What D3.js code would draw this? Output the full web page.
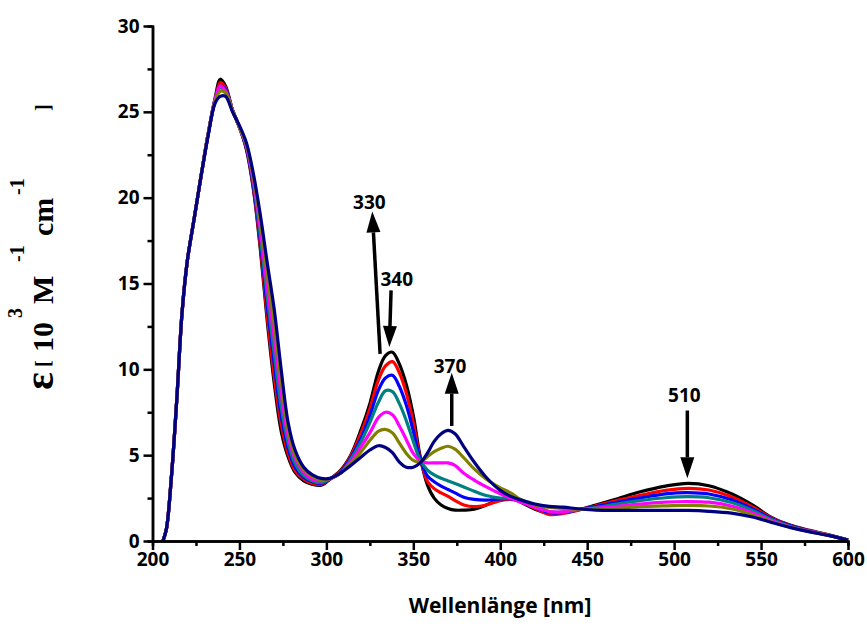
<!DOCTYPE html>
<html>
<head>
<meta charset="utf-8">
<script src="https://cdn.jsdelivr.net/npm/d3@7"></script>
<style>
  html, body { margin: 0; padding: 0; background: #ffffff; }
  svg { display: block; }
</style>
</head>
<body>
<svg id="chart" width="867" height="628"></svg>
<script>
// Wavelength grid (nm) shared by all spectra
const wavelength = [206, 208, 211, 214, 217, 220, 224, 228, 232, 236,
  239, 242, 246, 250, 254, 258, 262, 266, 270, 274,
  278, 282, 287, 292, 297, 302, 308, 314, 320, 325,
  330, 334, 338, 342, 346, 350, 354, 358, 362, 366,
  370, 374, 379, 385, 392, 400, 406, 412, 420, 428,
  436, 445, 455, 467, 480, 495, 508, 520, 533, 545,
  556, 567, 578, 590, 600];

// Molar absorptivity (10^3 M^-1 cm^-1), one array per spectrum
const specBlack = [0, 0.7, 3.9, 8.3, 13.3, 16.3, 18.8, 21.3, 23.7, 25.8,
  26.9, 26.5, 25.1, 24.1, 22.8, 20.5, 17.0, 12.8, 9.2, 6.4,
  4.9, 4.0, 3.5, 3.3, 3.25, 3.6, 4.1, 5.0, 6.5, 8.0,
  9.9, 10.8, 11.0, 10.3, 9.1, 7.3, 4.9, 3.3, 2.5, 2.1,
  1.9, 1.8, 1.8, 1.85, 2.1, 2.45, 2.55, 2.25, 1.85, 1.62,
  1.65, 1.82, 2.1, 2.45, 2.85, 3.2, 3.36, 3.22, 2.75, 2.1,
  1.38, 0.92, 0.62, 0.33, 0.05];
const specRed = [0, 0.7, 3.9, 8.3, 13.3, 16.3, 18.8, 21.3, 23.7, 25.7,
  26.7, 26.4, 25.1, 24.1, 22.9, 20.6, 17.2, 13.1, 9.6, 6.8,
  5.1, 4.1, 3.6, 3.35, 3.3, 3.6, 4.05, 4.95, 6.3, 7.7,
  9.4, 10.2, 10.45, 9.8, 8.6, 6.9, 4.8, 3.5, 3.05, 2.8,
  2.6, 2.35, 2.1, 2.0, 2.1, 2.35, 2.42, 2.3, 1.9, 1.55,
  1.6, 1.8, 2.05, 2.35, 2.65, 2.95, 3.07, 2.97, 2.58, 1.98,
  1.35, 0.9, 0.6, 0.32, 0.05];
const specBlue = [0, 0.7, 3.9, 8.3, 13.3, 16.3, 18.8, 21.3, 23.7, 25.7,
  26.5, 26.3, 25.1, 24.1, 22.9, 20.7, 17.5, 13.65, 10.3, 7.3,
  5.4, 4.3, 3.7, 3.45, 3.35, 3.6, 4.0, 4.85, 6.0, 7.3,
  8.8, 9.5, 9.65, 9.0, 7.9, 6.4, 4.75, 3.8, 3.45, 3.2,
  3.0, 2.8, 2.55, 2.42, 2.38, 2.45, 2.45, 2.3, 1.95, 1.65,
  1.65, 1.82, 2.0, 2.25, 2.5, 2.75, 2.82, 2.74, 2.4, 1.88,
  1.3, 0.88, 0.58, 0.31, 0.05];
const specTeal = [0, 0.7, 3.9, 8.3, 13.3, 16.3, 18.8, 21.3, 23.7, 25.7,
  26.4, 26.2, 25.1, 24.1, 23.0, 20.9, 17.8, 14.2, 10.9, 7.8,
  5.7, 4.5, 3.8, 3.5, 3.4, 3.62, 3.95, 4.75, 5.8, 6.9,
  8.1, 8.75, 8.7, 8.0, 7.0, 5.8, 4.7, 4.15, 3.85, 3.65,
  3.5, 3.35, 3.15, 2.9, 2.65, 2.5, 2.48, 2.35, 2.05, 1.72,
  1.68, 1.82, 1.95, 2.15, 2.35, 2.52, 2.58, 2.52, 2.24, 1.78,
  1.25, 0.85, 0.57, 0.31, 0.05];
const specMagenta = [0, 0.7, 3.9, 8.3, 13.3, 16.3, 18.8, 21.3, 23.7, 25.7,
  26.5, 26.2, 25.1, 24.1, 23.0, 21.0, 18.2, 14.8, 11.8, 8.6,
  6.1, 4.8, 4.0, 3.6, 3.5, 3.62, 3.95, 4.6, 5.5, 6.3,
  7.2, 7.5, 7.35, 6.7, 5.9, 5.1, 4.65, 4.55, 4.55, 4.55,
  4.55, 4.4, 3.95, 3.55, 3.15, 2.75, 2.5, 2.25, 1.95, 1.72,
  1.7, 1.82, 1.9, 2.02, 2.15, 2.27, 2.3, 2.26, 2.04, 1.65,
  1.18, 0.82, 0.56, 0.3, 0.05];
const specOlive = [0, 0.7, 3.9, 8.3, 13.3, 16.3, 18.8, 21.3, 23.7, 25.6,
  26.2, 26.1, 25.1, 24.1, 23.1, 21.2, 18.6, 15.5, 12.6, 9.3,
  6.5, 5.0, 4.15, 3.75, 3.55, 3.63, 3.95, 4.5, 5.2, 5.85,
  6.4, 6.5, 6.3, 5.7, 5.1, 4.7, 4.6, 4.9, 5.2, 5.4,
  5.52, 5.35, 4.85, 4.2, 3.6, 3.1, 2.8, 2.4, 2.1, 1.95,
  1.9, 1.85, 1.85, 1.9, 2.0, 2.05, 2.07, 2.04, 1.88, 1.52,
  1.12, 0.8, 0.54, 0.3, 0.05];
const specNavy = [0, 0.7, 3.9, 8.3, 13.3, 16.3, 18.8, 21.3, 23.6, 25.5,
  25.9, 25.9, 25.0, 24.2, 23.2, 21.4, 19.0, 16.2, 13.5, 10.0,
  6.9, 5.3, 4.3, 3.85, 3.65, 3.65, 3.95, 4.4, 4.9, 5.3,
  5.55, 5.45, 5.15, 4.6, 4.3, 4.3, 4.55, 5.1, 5.8, 6.25,
  6.45, 6.25, 5.5, 4.6, 3.7, 2.95, 2.6, 2.38, 2.15, 2.02,
  1.97, 1.88, 1.8, 1.78, 1.78, 1.78, 1.78, 1.73, 1.62, 1.4,
  1.08, 0.78, 0.53, 0.3, 0.05];

const seriesValues = [specBlack, specRed, specBlue, specTeal, specMagenta, specOlive, specNavy];
const seriesColors = ["#000000", "#ff0000", "#0000ff", "#008080", "#ff00ff", "#808000", "#000080"];

// Axis ticks
const xMajorTicks = [200, 250, 300, 350, 400, 450, 500, 550, 600];
const xMinorTicks = [225, 275, 325, 375, 425, 475, 525, 575];
const yMajorTicks = [0, 5, 10, 15, 20, 25, 30];
const yMinorTicks = [2.5, 7.5, 12.5, 17.5, 22.5, 27.5];

// Band annotations: label, arrow tail and arrow tip (nm, epsilon), label anchor
const bandLabels = ["330", "340", "370", "510"];
const arrowTails = [[330.9, 10.9], [337.2, 14.6], [372.1, 6.7], [507.6, 7.6]];
const arrowTips = [[326.4, 19.2], [336.2, 11.3], [372.1, 9.8], [507.6, 3.65]];
const labelAnchors = [[324.7, 19.35], [340.5, 14.85], [371.1, 9.8], [505.9, 8.1]];

const svg = d3.select("#chart");
const x = d3.scaleLinear().domain([200, 600]).range([152.5, 848]);
const y = d3.scaleLinear().domain([0, 30]).range([541, 26]);

const tickFont = "'Open Sans', 'DejaVu Sans', sans-serif";

// Spectra
const line = d3.line()
  .x(d => x(d[0]))
  .y(d => y(d[1]))
  .curve(d3.curveCatmullRom.alpha(0.5));

seriesValues.forEach((vals, i) => {
  svg.append("path")
    .datum(wavelength.map((w, k) => [w, vals[k]]))
    .attr("d", line)
    .attr("fill", "none")
    .attr("stroke", seriesColors[i])
    .attr("stroke-width", 3.2)
    .attr("stroke-linejoin", "round");
});

// Axes
function styleAxis(g) {
  g.select(".domain").attr("stroke", "#000").attr("stroke-width", 2.5);
  g.selectAll(".tick line").attr("stroke", "#000").attr("stroke-width", 2.5);
  g.selectAll(".tick text")
    .attr("font-family", tickFont)
    .attr("font-weight", "bold")
    .attr("font-size", 19)
    .attr("fill", "#000");
}

svg.append("g")
  .attr("transform", `translate(0,${y(0)})`)
  .call(d3.axisBottom(x).tickValues(xMinorTicks).tickSize(5).tickFormat(""))
  .call(styleAxis);
svg.append("g")
  .attr("transform", `translate(0,${y(0)})`)
  .call(d3.axisBottom(x).tickValues(xMajorTicks).tickSize(9).tickSizeOuter(0).tickPadding(3).tickFormat(d3.format("d")))
  .call(styleAxis);

svg.append("g")
  .attr("transform", `translate(${x(200)},0)`)
  .call(d3.axisLeft(y).tickValues(yMinorTicks).tickSize(5).tickFormat(""))
  .call(styleAxis);
svg.append("g")
  .attr("transform", `translate(${x(200)},0)`)
  .call(d3.axisLeft(y).tickValues(yMajorTicks).tickSize(9).tickSizeOuter(0).tickPadding(4).tickFormat(d3.format("d")))
  .call(styleAxis);

// X axis title
svg.append("text")
  .attr("x", 500)
  .attr("y", 613)
  .attr("text-anchor", "middle")
  .attr("font-family", tickFont)
  .attr("font-weight", "bold")
  .attr("font-size", 21)
  .text("Wellenlänge [nm]");

// Y axis title, set piece by piece along the rotated baseline
const yTitle = svg.append("g")
  .attr("transform", "rotate(-90)")
  .attr("font-family", "'Liberation Serif', 'Times New Roman', serif")
  .attr("font-weight", "bold")
  .attr("fill", "#000");
const titleParts = [
  { t: "ε", u: 390, v: 53, s: 42 },
  { t: "[", u: 367, v: 50, s: 20 },
  { t: "10", u: 352, v: 53, s: 30 },
  { t: "3", u: 318, v: 22, s: 20 },
  { t: "M", u: 304, v: 53, s: 30 },
  { t: "-1", u: 262, v: 24, s: 20 },
  { t: "cm", u: 236, v: 53, s: 30 },
  { t: "-1", u: 195, v: 24, s: 20 },
  { t: "]", u: 111, v: 50, s: 20 }
];
titleParts.forEach(p => {
  yTitle.append("text")
    .attr("x", -p.u)
    .attr("y", p.v)
    .attr("font-size", p.s)
    .text(p.t);
});

// Band arrows and labels
const headLen = 21, headHalf = 7;
bandLabels.forEach((lab, i) => {
  const x0 = x(arrowTails[i][0]), y0 = y(arrowTails[i][1]);
  const x1 = x(arrowTips[i][0]), y1 = y(arrowTips[i][1]);
  const dx = x1 - x0, dy = y1 - y0;
  const len = Math.hypot(dx, dy);
  const ux = dx / len, uy = dy / len;
  const bx = x1 - ux * headLen, by = y1 - uy * headLen;
  svg.append("line")
    .attr("x1", x0).attr("y1", y0)
    .attr("x2", bx).attr("y2", by)
    .attr("stroke", "#000").attr("stroke-width", 3.5);
  svg.append("path")
    .attr("d", `M${x1},${y1}L${bx - uy * headHalf},${by + ux * headHalf}L${bx + uy * headHalf},${by - ux * headHalf}Z`)
    .attr("fill", "#000");
  svg.append("text")
    .attr("x", x(labelAnchors[i][0]))
    .attr("y", y(labelAnchors[i][1]))
    .attr("text-anchor", "middle")
    .attr("font-family", tickFont)
    .attr("font-weight", "bold")
    .attr("font-size", 19)
    .text(lab);
});
</script>
</body>
</html>
